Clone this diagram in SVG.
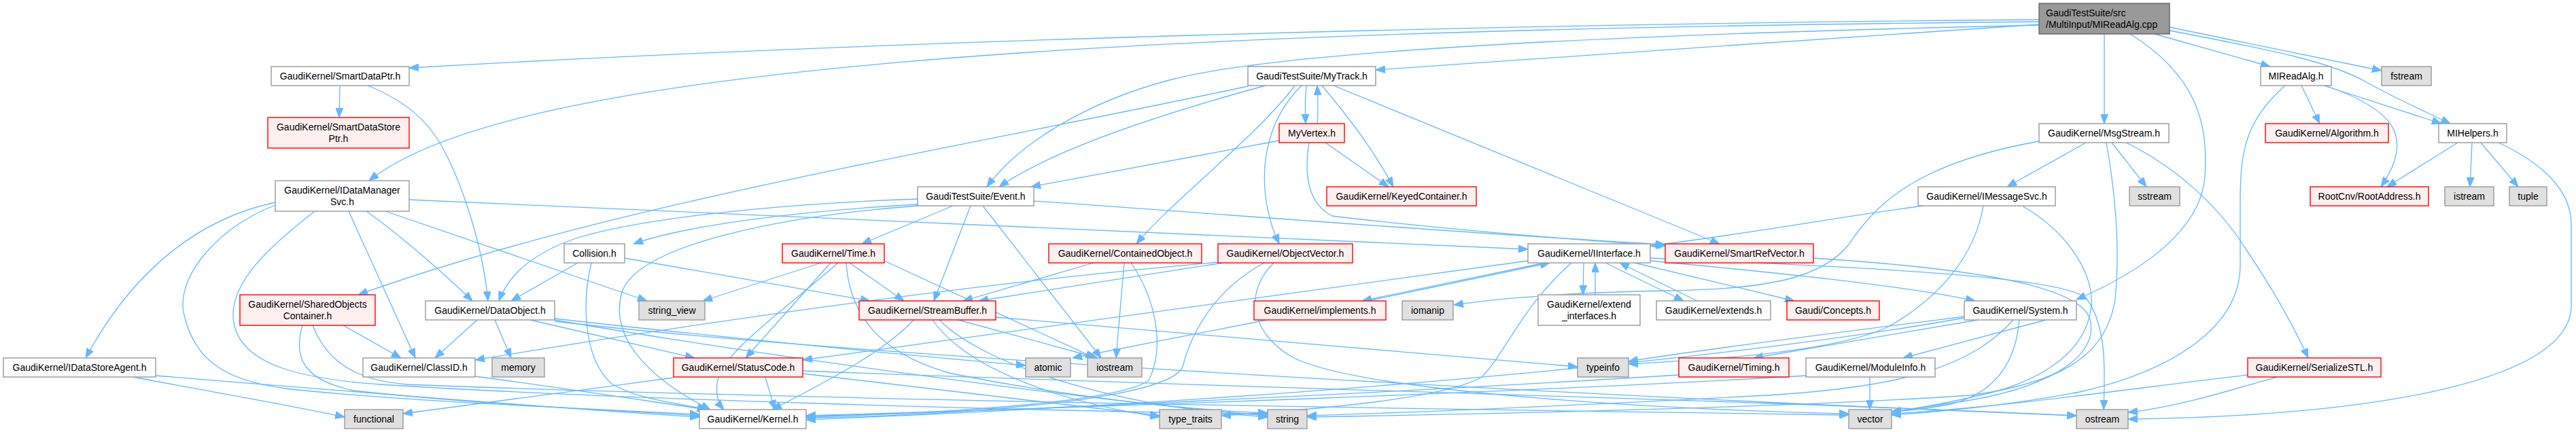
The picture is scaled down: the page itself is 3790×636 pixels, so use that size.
<svg xmlns="http://www.w3.org/2000/svg" width="3790" height="636" viewBox="0 0 3790 636">
<style>
.nd rect{fill:#ffffff;stroke:#999999;stroke-width:1.4}
.rd rect{fill:#FFF0F0;stroke:#FF0000;stroke-width:1.4}
.gy rect{fill:#E0E0E0;stroke:#999999;stroke-width:1.4}
.rt rect{fill:#999999;stroke:#666666;stroke-width:1.4}
text{font-family:"Liberation Sans",Arial,sans-serif;font-size:14px;text-anchor:middle;fill:#000000}
.e{fill:none;stroke:#63B8FF;stroke-width:1.3;marker-end:url(#ah)}
</style>
<defs>
<marker id="ah" markerUnits="userSpaceOnUse" markerWidth="14" markerHeight="11" refX="14" refY="5.5" orient="auto">
<path d="M0,0 L14,5.5 L0,11 z" fill="#63B8FF" stroke="#63B8FF" stroke-width="1"/>
</marker>
</defs>
<rect x="0" y="0" width="3790" height="636" fill="#ffffff"/>
<g id="edges">
<path class="e" d="M3000,29 C2200,35 1300,60 602,100"/>
<path class="e" d="M3000,32 C1600,45 750,100 543,266"/>
<path class="e" d="M3000,37 C2500,48 1900,70 1720,118 C1600,150 1500,210 1452,275"/>
<path class="e" d="M3000,36 C2700,55 2300,85 2024,103"/>
<path class="e" d="M3096,50 L3096,182"/>
<path class="e" d="M3134,50 C3230,110 3250,180 3244,260 C3238,340 3150,400 3055,441"/>
<path class="e" d="M3170,50 L3340,98"/>
<path class="e" d="M3192,40 L3504,104"/>
<path class="e" d="M3192,45 C3350,75 3430,92 3480,120 C3530,148 3570,165 3605,182"/>
<path class="e" d="M3386,126 L3413,182"/>
<path class="e" d="M3419,126 L3592,182"/>
<path class="e" d="M3421,126 C3520,160 3555,200 3503,275"/>
<path class="e" d="M3362,126 C3300,180 3296,230 3296,300 L3296,390 C3296,480 3200,545 3060,577 C2950,598 2850,606 2783,611"/>
<path class="e" d="M3616,210 L3512,275"/>
<path class="e" d="M3637,210 L3634,275"/>
<path class="e" d="M3650,210 L3705,275"/>
<path class="e" d="M3676,210 C3740,240 3783,280 3783,330 L3783,450 C3783,560 3500,612 3131,617"/>
<path class="e" d="M3069,210 L2953,275"/>
<path class="e" d="M3107,210 L3158,275"/>
<path class="e" d="M3128,210 C3200,245 3260,300 3300,360 C3340,420 3370,470 3396,527"/>
<path class="e" d="M3000,208 C2820,240 2760,300 2720,360 C2680,410 2600,426 2450,428 C2300,431 2200,440 2139,449"/>
<path class="e" d="M3099,210 C3115,300 3118,380 3112,440 C3100,520 3040,562 2900,582 C2600,602 2100,611 1923,614"/>
<path class="e" d="M2830,303 C2700,320 2600,340 2428,362"/>
<path class="e" d="M2918,303 C2905,380 2850,440 2780,480 C2700,520 2500,530 2396,536"/>
<path class="e" d="M2975,303 C3040,340 3080,400 3077,450 C3070,520 3000,565 2900,585 C2850,596 2810,603 2783,606"/>
<path class="e" d="M3307,552 C3150,570 2950,600 2783,609"/>
<path class="e" d="M3350,555 C3280,575 3200,600 3131,607"/>
<path class="e" d="M500,126 L499,173"/>
<path class="e" d="M541,126 C600,150 630,180 650,215 C680,270 710,360 718,443"/>
<path class="e" d="M405,298 C300,320 200,390 126,527"/>
<path class="e" d="M405,302 C330,330 260,400 270,460 C285,530 330,560 420,572 C600,592 900,603 1029,610"/>
<path class="e" d="M463,311 C400,360 330,420 345,480 C360,540 450,558 560,566 C900,588 1500,604 1865,610"/>
<path class="e" d="M513,311 L611,527"/>
<path class="e" d="M539,311 C580,340 640,390 695,443"/>
<path class="e" d="M567,311 L952,443"/>
<path class="e" d="M602,294 L2248,367"/>
<path class="e" d="M1836,127 C1400,220 900,300 527,434"/>
<path class="e" d="M1862,126 C1700,170 1550,220 1470,275"/>
<path class="e" d="M1905,126 C1850,200 1720,300 1672,359"/>
<path class="e" d="M1915,126 C1870,170 1855,230 1862,290 C1868,330 1876,345 1882,359"/>
<path class="e" d="M1922,126 C1920,145 1920,160 1921,182"/>
<path class="e" d="M1945,126 C1990,180 2020,220 2050,275"/>
<path class="e" d="M1962,126 L2530,359"/>
<path class="e" d="M1938,182 C1940,160 1939,145 1938,126"/>
<path class="e" d="M1950,210 L2043,275"/>
<path class="e" d="M1882,207 L1517,275"/>
<path class="e" d="M1926,210 C1918,260 1925,300 1960,318 C2100,335 2300,352 2450,362"/>
<path class="e" d="M1350,301 C1150,312 1000,335 932,359"/>
<path class="e" d="M1350,293 C1150,300 950,320 850,350 C790,370 750,400 734,443"/>
<path class="e" d="M1350,303 C1150,318 940,360 915,430 C895,500 960,560 1045,603"/>
<path class="e" d="M1402,303 L1268,359"/>
<path class="e" d="M1428,303 L1374,443"/>
<path class="e" d="M1446,303 L1620,527"/>
<path class="e" d="M1521,296 C1800,315 2100,340 2450,360"/>
<path class="e" d="M850,387 L752,443"/>
<path class="e" d="M870,387 C855,450 860,530 900,565 C940,590 1010,595 1040,603"/>
<path class="e" d="M919,380 L1280,443"/>
<path class="e" d="M1208,387 L1034,443"/>
<path class="e" d="M1222,387 L1097,527"/>
<path class="e" d="M1233,387 C1150,460 1060,520 1055,565 C1053,585 1058,595 1065,603"/>
<path class="e" d="M1250,387 L1330,443"/>
<path class="e" d="M1301,384 L1611,527"/>
<path class="e" d="M1245,387 C1250,460 1290,520 1400,550 C1600,590 1780,605 1865,608"/>
<path class="e" d="M1609,387 L1417,443"/>
<path class="e" d="M1654,387 L1642,527"/>
<path class="e" d="M1664,387 C1700,440 1715,510 1690,560 C1650,590 1400,610 1186,612"/>
<path class="e" d="M1792,386 C1400,420 1000,480 699,530"/>
<path class="e" d="M1799,387 L1440,443"/>
<path class="e" d="M1860,387 C1780,430 1750,500 1740,540 C1720,590 1400,612 1186,615"/>
<path class="e" d="M1874,387 C1830,430 1840,490 1900,525 C2000,580 2500,605 2720,609"/>
<path class="e" d="M1344,471 C1300,520 1200,570 1136,603"/>
<path class="e" d="M1372,471 C1420,540 1550,590 1706,614"/>
<path class="e" d="M1382,471 C1450,540 1650,600 1865,614"/>
<path class="e" d="M1410,471 L1615,527"/>
<path class="e" d="M1465,467 L2321,540"/>
<path class="e" d="M2012,443 L2280,387"/>
<path class="e" d="M1864,471 L1578,527"/>
<path class="e" d="M2272,387 L2004,443"/>
<path class="e" d="M2330,387 L2329,434"/>
<path class="e" d="M2347,434 L2347,387"/>
<path class="e" d="M2362,387 L2477,443"/>
<path class="e" d="M2497,443 L2383,387"/>
<path class="e" d="M2405,387 L2640,443"/>
<path class="e" d="M2428,384 C2600,400 2800,420 2906,443"/>
<path class="e" d="M2428,380 C2700,392 3040,405 3070,440 C3100,480 3097,550 3095,603"/>
<path class="e" d="M2668,380 C2900,395 3060,420 3075,470 C3090,530 3000,575 2880,592 C2830,600 2800,604 2783,606"/>
<path class="e" d="M2312,387 C2240,450 2215,520 2180,555 C2120,590 1900,605 1797,612"/>
<path class="e" d="M2248,384 L1181,530"/>
<path class="e" d="M2890,468 C2600,520 2000,585 1186,618"/>
<path class="e" d="M3010,471 L2800,527"/>
<path class="e" d="M2910,471 L2580,527"/>
<path class="e" d="M2890,466 C2700,490 2500,515 2396,532"/>
<path class="e" d="M2971,471 C2965,540 2930,580 2870,595 C2830,603 2800,605 2783,606"/>
<path class="e" d="M2962,471 C2900,540 2800,570 2600,582 C2300,598 2050,608 1923,612"/>
<path class="e" d="M2751,555 L2751,603"/>
<path class="e" d="M2657,553 C2300,575 1600,600 1186,612"/>
<path class="e" d="M2470,552 C2100,575 1600,600 1186,614"/>
<path class="e" d="M1126,555 L1140,603"/>
<path class="e" d="M991,556 C850,575 700,595 593,609"/>
<path class="e" d="M1181,550 C1400,575 1600,600 1706,612"/>
<path class="e" d="M1181,546 C1800,570 2600,590 3055,612"/>
<path class="e" d="M702,471 L640,527"/>
<path class="e" d="M728,471 L752,527"/>
<path class="e" d="M780,471 L1022,527"/>
<path class="e" d="M816,469 C1000,490 1300,520 1509,538"/>
<path class="e" d="M816,471 C1100,520 1600,590 1865,612"/>
<path class="e" d="M816,473 C1300,530 2500,590 3055,612"/>
<path class="e" d="M505,479 L590,527"/>
<path class="e" d="M445,479 C430,530 450,560 520,575 C700,595 900,604 1029,612"/>
<path class="e" d="M460,479 C480,530 520,560 600,566 C1200,590 2300,605 2720,611"/>
<path class="e" d="M196,555 C300,575 420,595 507,614"/>
<path class="e" d="M229,553 C500,575 800,600 1029,614"/>
<path class="e" d="M699,554 C820,570 950,590 1040,603"/>
</g>
<g id="n_root" class="rt"><rect x="3000" y="5" width="192" height="45"/><text x="3010" y="24" style="text-anchor:start">GaudiTestSuite/src</text><text x="3010" y="40.5" style="text-anchor:start">/MultiInput/MIReadAlg.cpp</text></g>
<g id="n_SmartDataPtr" class="nd"><rect x="399" y="98" width="203" height="28"/><text x="500.5" y="117">GaudiKernel/SmartDataPtr.h</text></g>
<g id="n_MyTrack" class="nd"><rect x="1836" y="98" width="188" height="28"/><text x="1930" y="117">GaudiTestSuite/MyTrack.h</text></g>
<g id="n_MIReadAlg" class="nd"><rect x="3326" y="98" width="104" height="28"/><text x="3378" y="117">MIReadAlg.h</text></g>
<g id="n_fstream" class="gy"><rect x="3504" y="98" width="73" height="28"/><text x="3540.5" y="117">fstream</text></g>
<g id="n_SmartDataStorePtr" class="rd"><rect x="394" y="173" width="208" height="45"/><text x="498" y="192">GaudiKernel/SmartDataStore</text><text x="498" y="208.5">Ptr.h</text></g>
<g id="n_MyVertex" class="rd"><rect x="1882" y="182" width="96" height="28"/><text x="1930" y="201">MyVertex.h</text></g>
<g id="n_MsgStream" class="nd"><rect x="3000" y="182" width="191" height="28"/><text x="3095.5" y="201">GaudiKernel/MsgStream.h</text></g>
<g id="n_Algorithm" class="rd"><rect x="3333" y="182" width="181" height="28"/><text x="3423.5" y="201">GaudiKernel/Algorithm.h</text></g>
<g id="n_MIHelpers" class="nd"><rect x="3588" y="182" width="100" height="28"/><text x="3638" y="201">MIHelpers.h</text></g>
<g id="n_IDataManagerSvc" class="nd"><rect x="405" y="266" width="197" height="45"/><text x="503.5" y="285">GaudiKernel/IDataManager</text><text x="503.5" y="301.5">Svc.h</text></g>
<g id="n_Event" class="nd"><rect x="1350" y="275" width="171" height="28"/><text x="1435.5" y="294">GaudiTestSuite/Event.h</text></g>
<g id="n_KeyedContainer" class="rd"><rect x="1952" y="275" width="220" height="28"/><text x="2062" y="294">GaudiKernel/KeyedContainer.h</text></g>
<g id="n_IMessageSvc" class="nd"><rect x="2822" y="275" width="202" height="28"/><text x="2923" y="294">GaudiKernel/IMessageSvc.h</text></g>
<g id="n_sstream" class="gy"><rect x="3133" y="275" width="74" height="28"/><text x="3170" y="294">sstream</text></g>
<g id="n_RootAddress" class="rd"><rect x="3399" y="275" width="174" height="28"/><text x="3486" y="294">RootCnv/RootAddress.h</text></g>
<g id="n_istream" class="gy"><rect x="3597" y="275" width="72" height="28"/><text x="3633" y="294">istream</text></g>
<g id="n_tuple" class="gy"><rect x="3692" y="275" width="55" height="28"/><text x="3719.5" y="294">tuple</text></g>
<g id="n_Collision" class="nd"><rect x="830" y="359" width="89" height="28"/><text x="874.5" y="378">Collision.h</text></g>
<g id="n_Time" class="rd"><rect x="1151" y="359" width="150" height="28"/><text x="1226" y="378">GaudiKernel/Time.h</text></g>
<g id="n_ContainedObject" class="rd"><rect x="1543" y="359" width="225" height="28"/><text x="1655.5" y="378">GaudiKernel/ContainedObject.h</text></g>
<g id="n_ObjectVector" class="rd"><rect x="1792" y="359" width="198" height="28"/><text x="1891" y="378">GaudiKernel/ObjectVector.h</text></g>
<g id="n_IInterface" class="nd"><rect x="2248" y="359" width="180" height="28"/><text x="2338" y="378">GaudiKernel/IInterface.h</text></g>
<g id="n_SmartRefVector" class="rd"><rect x="2450" y="359" width="218" height="28"/><text x="2559" y="378">GaudiKernel/SmartRefVector.h</text></g>
<g id="n_SharedObjectsContainer" class="rd"><rect x="353" y="434" width="199" height="45"/><text x="452.5" y="453">GaudiKernel/SharedObjects</text><text x="452.5" y="469.5">Container.h</text></g>
<g id="n_DataObject" class="nd"><rect x="626" y="443" width="190" height="28"/><text x="721" y="462">GaudiKernel/DataObject.h</text></g>
<g id="n_string_view" class="gy"><rect x="940" y="443" width="97" height="28"/><text x="988.5" y="462">string_view</text></g>
<g id="n_StreamBuffer" class="rd"><rect x="1264" y="443" width="201" height="28"/><text x="1364.5" y="462">GaudiKernel/StreamBuffer.h</text></g>
<g id="n_implements" class="rd"><rect x="1845" y="443" width="194" height="28"/><text x="1942" y="462">GaudiKernel/implements.h</text></g>
<g id="n_iomanip" class="gy"><rect x="2063" y="443" width="75" height="28"/><text x="2100.5" y="462">iomanip</text></g>
<g id="n_extend_interfaces" class="nd"><rect x="2263" y="434" width="150" height="45"/><text x="2338" y="453">GaudiKernel/extend</text><text x="2338" y="469.5">_interfaces.h</text></g>
<g id="n_extends" class="nd"><rect x="2437" y="443" width="168" height="28"/><text x="2521" y="462">GaudiKernel/extends.h</text></g>
<g id="n_Concepts" class="rd"><rect x="2629" y="443" width="136" height="28"/><text x="2697" y="462">Gaudi/Concepts.h</text></g>
<g id="n_System" class="nd"><rect x="2890" y="443" width="165" height="28"/><text x="2972.5" y="462">GaudiKernel/System.h</text></g>
<g id="n_IDataStoreAgent" class="nd"><rect x="5" y="527" width="224" height="28"/><text x="117" y="546">GaudiKernel/IDataStoreAgent.h</text></g>
<g id="n_ClassID" class="nd"><rect x="534" y="527" width="165" height="28"/><text x="616.5" y="546">GaudiKernel/ClassID.h</text></g>
<g id="n_memory" class="gy"><rect x="724" y="527" width="77" height="28"/><text x="762.5" y="546">memory</text></g>
<g id="n_StatusCode" class="rd"><rect x="991" y="527" width="190" height="28"/><text x="1086" y="546">GaudiKernel/StatusCode.h</text></g>
<g id="n_atomic" class="gy"><rect x="1509" y="527" width="66" height="28"/><text x="1542" y="546">atomic</text></g>
<g id="n_iostream" class="gy"><rect x="1600" y="527" width="80" height="28"/><text x="1640" y="546">iostream</text></g>
<g id="n_typeinfo" class="gy"><rect x="2321" y="527" width="75" height="28"/><text x="2358.5" y="546">typeinfo</text></g>
<g id="n_Timing" class="rd"><rect x="2470" y="527" width="162" height="28"/><text x="2551" y="546">GaudiKernel/Timing.h</text></g>
<g id="n_ModuleInfo" class="nd"><rect x="2657" y="527" width="190" height="28"/><text x="2752" y="546">GaudiKernel/ModuleInfo.h</text></g>
<g id="n_SerializeSTL" class="rd"><rect x="3307" y="527" width="196" height="28"/><text x="3405" y="546">GaudiKernel/SerializeSTL.h</text></g>
<g id="n_functional" class="gy"><rect x="507" y="603" width="86" height="28"/><text x="550" y="622">functional</text></g>
<g id="n_Kernel" class="nd"><rect x="1029" y="603" width="157" height="28"/><text x="1107.5" y="622">GaudiKernel/Kernel.h</text></g>
<g id="n_type_traits" class="gy"><rect x="1706" y="603" width="91" height="28"/><text x="1751.5" y="622">type_traits</text></g>
<g id="n_string" class="gy"><rect x="1865" y="603" width="58" height="28"/><text x="1894" y="622">string</text></g>
<g id="n_vector" class="gy"><rect x="2720" y="603" width="63" height="28"/><text x="2751.5" y="622">vector</text></g>
<g id="n_ostream" class="gy"><rect x="3055" y="603" width="76" height="28"/><text x="3093" y="622">ostream</text></g>
</svg>
